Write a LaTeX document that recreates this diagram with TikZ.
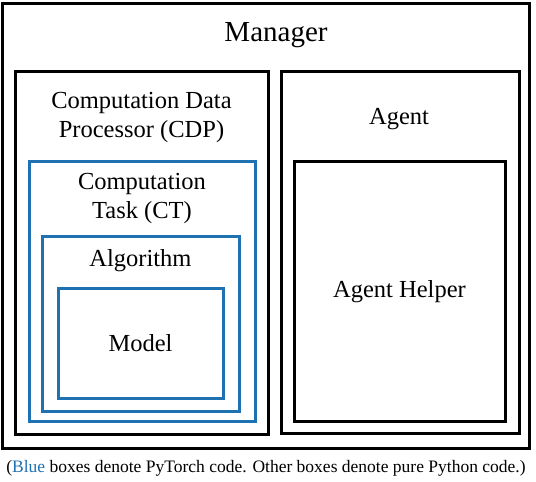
\documentclass[tikz,border=0pt]{standalone}
\usepackage{fontspec}
\setmainfont{Liberation Serif}
\usetikzlibrary{fit}
\definecolor{tblue}{RGB}{31,114,178}
\begin{document}
\begin{tikzpicture}[x=1pt,y=-1pt,
  bbox/.style={draw=black,line width=3pt,inner sep=0pt,rectangle},
  bluebox/.style={draw=tblue,line width=3pt,inner sep=0pt,rectangle},
  lbl/.style={inner sep=0pt,anchor=base,font=\fontsize{24.5}{29}\selectfont},
  title/.style={inner sep=0pt,anchor=base,font=\fontsize{29}{34}\selectfont},
  captxt/.style={inner sep=0pt,anchor=base,font=\fontsize{17.5}{21}\selectfont}]
\useasboundingbox (0,0) rectangle (536,482);
\node[bbox,fit={(2,3) (529,448)}] (mgr) {};
\node[bbox,fit={(15,71) (268,434)}] (cdp) {};
\node[bbox,fit={(281,71) (519,433)}] (agent) {};
\node[bbox,fit={(294,161) (505,421)}] (helper) {};
\node[bluebox,fit={(29,161) (255,421)}] (ct) {};
\node[bluebox,fit={(42,236) (239,411)}] (alg) {};
\node[bluebox,fit={(58,288) (223,398)}] (model) {};
\node[title] (mgrt) at (276,41) {Manager};
\node[lbl] (cdpt1) at (141.5,108) {Computation Data};
\node[lbl] (cdpt2) at (141.5,137) {Processor (CDP)};
\node[lbl] (ctt1) at (142,189) {Computation};
\node[lbl] (ctt2) at (142,218) {Task (CT)};
\node[lbl] (algt) at (140.5,266) {Algorithm};
\node[lbl] (modelt) at (140.5,351) {Model};
\node[lbl] (agentt) at (399,124) {Agent};
\node[lbl] (helpert) at (399.5,297) {Agent Helper};
\node[captxt] (cap) at (266,472) {(\textcolor{tblue}{Blue} boxes denote PyTorch code. Other boxes denote pure Python code.)};
\end{tikzpicture}
\end{document}
